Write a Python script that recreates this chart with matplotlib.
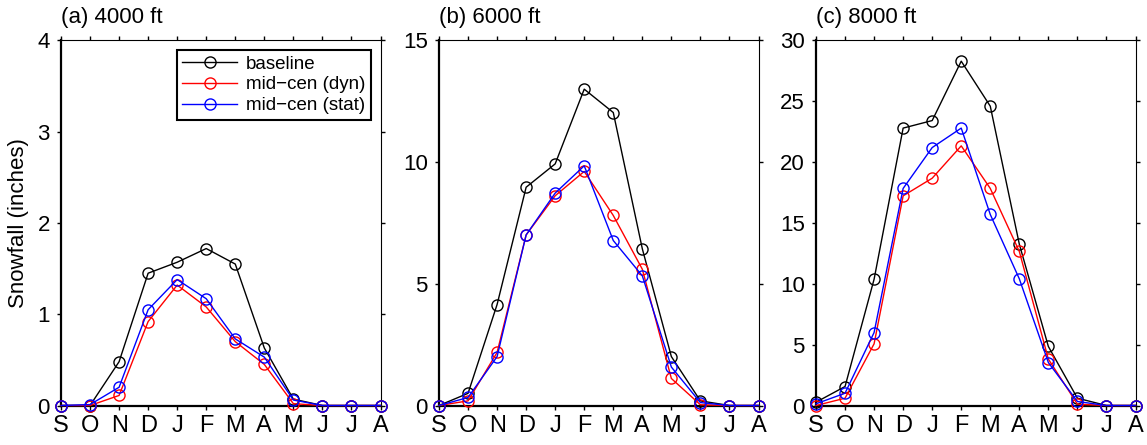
import numpy as np
import matplotlib.pyplot as plt

plt.rcParams['font.family'] = ['Liberation Sans', 'DejaVu Sans']

months = ['S', 'O', 'N', 'D', 'J', 'F', 'M', 'A', 'M', 'J', 'J', 'A']
titles = ['(a) 4000 ft', '(b) 6000 ft', '(c) 8000 ft']
labels = ['baseline', 'mid\u2212cen (dyn)', 'mid\u2212cen (stat)']
colors = ['black', 'red', 'blue']

base_4000 = [0, 0, 0.48, 1.45, 1.57, 1.72, 1.55, 0.63, 0.07, 0, 0, 0]
dyn_4000 = [0, 0, 0.11, 0.92, 1.32, 1.08, 0.70, 0.45, 0.02, 0, 0, 0]
stat_4000 = [0, 0.01, 0.20, 1.05, 1.38, 1.17, 0.73, 0.53, 0.06, 0, 0, 0]

base_6000 = [0, 0.50, 4.15, 8.97, 9.93, 13.0, 12.04, 6.44, 2.01, 0.19, 0, 0]
dyn_6000 = [0, 0.19, 2.18, 7.01, 8.62, 9.62, 7.81, 5.60, 1.11, 0.03, 0, 0]
stat_6000 = [0, 0.33, 2.01, 7.01, 8.73, 9.85, 6.78, 5.33, 1.58, 0.12, 0, 0]

base_8000 = [0.27, 1.56, 10.38, 22.8, 23.42, 28.3, 24.6, 13.26, 4.85, 0.6, 0, 0]
dyn_8000 = [0, 0.60, 5.07, 17.23, 18.68, 21.34, 17.84, 12.66, 3.81, 0.11, 0, 0]
stat_8000 = [0.14, 1.01, 6.0, 17.84, 21.2, 22.8, 15.7, 10.41, 3.53, 0.33, 0, 0]

panels = [
    (base_4000, dyn_4000, stat_4000),
    (base_6000, dyn_6000, stat_6000),
    (base_8000, dyn_8000, stat_8000),
]
ymax = [4, 15, 30]
ystep = [1, 5, 5]

fig = plt.figure(figsize=(11.47, 4.45), dpi=100)
lefts = [61, 439, 816]
W, H = 1147, 445
x = np.arange(len(months))

for i, series in enumerate(panels):
    ax = fig.add_axes([lefts[i] / W, (H - 405.5) / H, 319.5 / W, 365 / H])
    for s, c, lab in zip(series, colors, labels):
        ax.plot(x, s, color=c, lw=1.0, marker='o', ms=8, mfc='none',
                mec=c, mew=1.0, label=lab, clip_on=False, zorder=3)
    ax.set_xlim(0, 11)
    ax.set_ylim(0, ymax[i])
    ax.set_xticks(x)
    ax.set_xticklabels(months)
    ax.set_yticks(np.arange(0, ymax[i] + 0.1, ystep[i]))
    ax.tick_params(direction='out', length=3, width=1,
                   top=True, right=True)
    ax.tick_params(axis='y', labelsize=16, pad=5)
    ax.tick_params(axis='x', labelsize=17, pad=4)
    for side in ['left', 'bottom']:
        ax.spines[side].set_linewidth(1.6)
    for side in ['top', 'right']:
        ax.spines[side].set_linewidth(0.8)
    ax.text(0, 1.035, titles[i], transform=ax.transAxes, fontsize=16,
            ha='left', va='bottom')
    if i == 0:
        ax.set_ylabel('Snowfall (inches)', fontsize=16, labelpad=6)
        leg = ax.legend(loc='upper right', fontsize=13.5, handlelength=2.9,
                        fancybox=False, framealpha=1, borderaxespad=0.5,
                        labelspacing=0.2, handletextpad=0.5,
                        borderpad=0.3)
        leg.get_frame().set_edgecolor('black')
        leg.get_frame().set_linewidth(1.5)

fig.savefig('out.png', dpi=100)
